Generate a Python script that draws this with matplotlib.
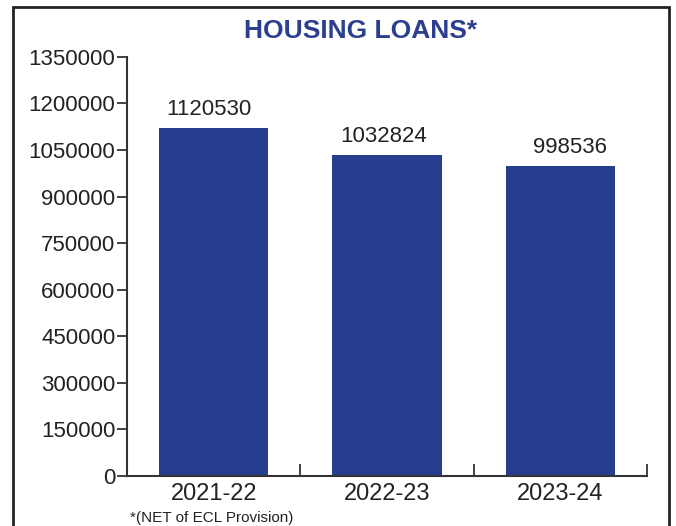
import matplotlib.pyplot as plt
from matplotlib.patches import Rectangle

years = ['2021-22', '2022-23', '2023-24']
loans = [1120530, 1032824, 998536]
yticks = list(range(0, 1350001, 150000))

bar_color = '#253f8e'
txt = '#222222'
font = 'Liberation Sans'

fig = plt.figure(figsize=(6.76, 5.26), dpi=100)
ax = fig.add_axes([0.188, 0.095, 0.769, 0.797])

x = range(len(years))
ax.bar(x, loans, width=0.63, color=bar_color, zorder=2)
# labels in the original are not quite centred on the bars
label_dx = [-5, -3, 10]
for xi, v, dx in zip(x, loans, label_dx):
    ax.annotate(str(v), (xi, v), xytext=(dx, 8), textcoords='offset pixels',
                ha='center', va='bottom', fontsize=16, color=txt, family=font)

ax.set_xlim(-0.5, 2.5)
ax.set_ylim(0, 1350000)
ax.set_yticks(yticks)
ax.set_yticklabels([str(t) for t in yticks], fontsize=16, color=txt, family=font)
ax.set_xticks(list(x))
ax.set_xticklabels(years, fontsize=17, color=txt, family=font)
ax.tick_params(axis='x', which='major', length=0, pad=5)
ax.set_xticks([0.5, 1.5, 2.5], minor=True)
ax.tick_params(axis='x', which='minor', direction='in', length=9, width=1.3, color='#333333')
ax.tick_params(axis='y', direction='out', length=7, width=1.3, color='#333333', pad=1.5)

for s in ['top', 'right']:
    ax.spines[s].set_visible(False)
for s in ['left', 'bottom']:
    ax.spines[s].set_color('#333333')
    ax.spines[s].set_linewidth(1.5)

fig.text(0.533, 0.942, 'HOUSING LOANS*', ha='center', va='center',
         fontsize=19, fontweight='bold', color='#2b3f8e', family=font)
fig.text(0.192, 0.015, '*(NET of ECL Provision)', ha='left', va='center',
         fontsize=11, color=txt, family=font)

fig.patches.append(Rectangle((0.019, -0.05), 0.971, 1.037, transform=fig.transFigure,
                             fill=False, edgecolor=txt, linewidth=2))

fig.savefig('out.png', dpi=100)
